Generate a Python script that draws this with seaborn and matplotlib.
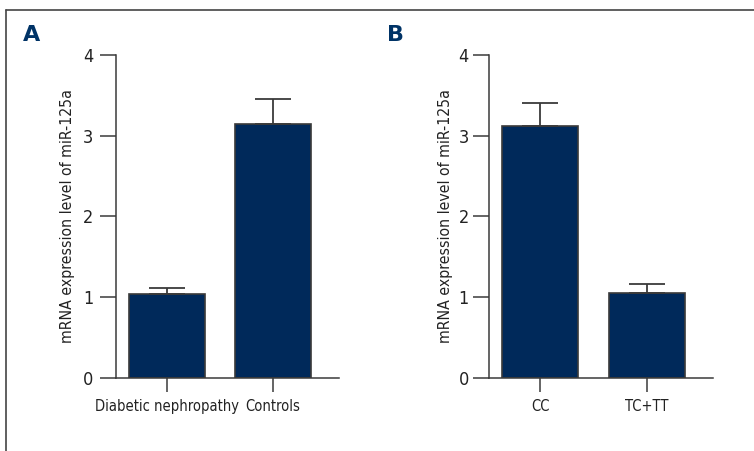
import matplotlib
matplotlib.use("Agg")
import matplotlib.pyplot as plt
from matplotlib.lines import Line2D
import seaborn as sns
import pandas as pd

# panel A: disease vs controls
groups_a = ["Diabetic nephropathy", "Controls"]
means_a = [1.04, 3.15]
errs_a = [0.08, 0.31]

# panel B: genotype
groups_b = ["CC", "TC+TT"]
means_b = [3.12, 1.05]
errs_b = [0.29, 0.11]

yticks = [0, 1, 2, 3, 4]
ylabel = "mRNA expression level of miR-125a"

NAVY = "#00295a"
EDGE = "#3a3a3a"

sns.set_theme(style="ticks")
plt.rcParams["font.family"] = ["DejaVu Sans"]
plt.rcParams["font.stretch"] = "condensed"

fig = plt.figure(figsize=(7.54, 4.51), dpi=100)
ax_a = fig.add_axes([0.1538, 0.1619, 0.2958, 0.7162])
ax_b = fig.add_axes([0.6485, 0.1619, 0.2970, 0.7162])


def draw_panel(ax, groups, means, errs, letter, label_x, ypad):
    df = pd.DataFrame({"group": groups, "value": means})
    sns.barplot(data=df, x="group", y="value", order=groups, color=NAVY,
                edgecolor=EDGE, linewidth=1.2, width=0.71, saturation=1,
                errorbar=None, ax=ax)
    ax.errorbar(range(len(groups)), means, yerr=[[0] * len(errs), errs],
                fmt="none", ecolor=EDGE, elinewidth=1.3, capsize=13,
                capthick=1.3, zorder=1)
    ax.set_ylim(0, 4)
    ax.set_xlim(-0.48, 1.62)
    ax.set_yticks(yticks)
    ax.set_xlabel("")
    ax.set_ylabel(ylabel, fontsize=11.3, color="#222222")
    ax.yaxis.set_label_coords(label_x, 0.5)
    for side in ["top", "right"]:
        ax.spines[side].set_visible(False)
    for side in ["left", "bottom"]:
        ax.spines[side].set_color(EDGE)
        ax.spines[side].set_linewidth(1.1)
    ax.tick_params(axis="y", length=11.5, width=1.1, color=EDGE, pad=ypad,
                   labelsize=13, labelcolor="#222222")
    ax.tick_params(axis="x", length=10, width=1.1, color=EDGE, pad=5,
                   labelsize=10.5, labelcolor="#222222")
    ax.text(letter[1], 0.9, letter[0], transform=fig.transFigure,
            fontsize=16, fontweight="bold", color="#003366",
            va="bottom", fontstretch="normal")


draw_panel(ax_a, groups_a, means_a, errs_a, ("A", 0.031), -0.184, 5)
draw_panel(ax_b, groups_b, means_b, errs_b, ("B", 0.513), -0.16, 3)

# figure frame (top and left edges only)
y_top = 1 - 10 / 451
x_left = 6 / 754
fig.add_artist(Line2D([x_left, 1], [y_top, y_top], color="#444444",
                      linewidth=1.2, transform=fig.transFigure))
fig.add_artist(Line2D([x_left, x_left], [0, y_top], color="#444444",
                      linewidth=1.2, transform=fig.transFigure))

fig.savefig("out.png", dpi=100)
